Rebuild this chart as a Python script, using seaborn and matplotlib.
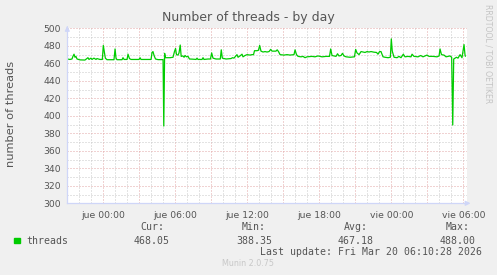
import matplotlib
matplotlib.use("Agg")
import matplotlib.pyplot as plt
import seaborn as sns
import numpy as np
import pandas as pd
from matplotlib.ticker import MultipleLocator, FixedLocator

# ---- data (hours relative to "jue 00:00") ----
hours = [-3.00, -2.78, -2.61, -2.53, -2.44, -2.36, -2.28, -2.19, -1.94, -1.53,
         -1.28, -1.19, -1.03, -0.94, -0.78, -0.61, -0.53, -0.28, -0.08, 0.00,
         0.08, 0.17, 0.31, 0.89, 0.98, 1.06, 1.14, 1.56, 1.64, 1.73,
         1.98, 2.06, 2.18, 2.31, 2.98, 3.06, 3.14, 3.98, 4.06, 4.14,
         4.23, 4.35, 4.56, 4.98, 5.04, 5.11, 5.18, 5.56, 5.81, 5.93,
         6.02, 6.10, 6.23, 6.31, 6.41, 6.49, 6.64, 6.73, 6.81, 6.93,
         7.06, 7.18, 7.48, 7.73, 7.81, 7.89, 8.23, 8.31, 8.39, 8.73,
         8.93, 9.03, 9.14, 9.39, 9.75, 9.83, 9.92, 10.23, 10.64, 10.77,
         10.89, 11.02, 11.14, 11.23, 11.39, 11.56, 11.64, 11.81, 11.98, 12.23,
         12.39, 12.52, 12.60, 12.81, 12.93, 13.03, 13.14, 13.31, 13.48, 13.64,
         13.81, 13.95, 14.06, 14.39, 14.49, 14.60, 14.73, 15.06, 15.31, 15.56,
         15.89, 15.98, 16.10, 16.23, 16.48, 16.64, 16.81, 16.98, 17.39, 17.64,
         17.89, 18.23, 18.56, 18.85, 18.95, 19.06, 19.39, 19.52, 19.64, 19.81,
         19.93, 20.06, 20.23, 20.56, 20.93, 21.03, 21.14, 21.31, 21.48, 21.81,
         21.98, 22.14, 22.31, 22.56, 22.77, 22.89, 23.02, 23.14, 23.31, 23.48,
         23.73, 23.92, 24.00, 24.08, 24.23, 24.48, 24.64, 24.81, 25.00, 25.14,
         25.39, 25.64, 25.73, 25.89, 26.23, 26.45, 26.64, 26.98, 27.14, 27.48,
         27.81, 27.98, 28.06, 28.18, 28.39, 28.56, 28.89, 29.03, 29.12, 29.20,
         29.43, 29.56, 29.73, 29.89, 30.06, 30.14, 30.17]
threads = [465.0, 464.5, 465.0, 468.0, 470.5, 467.0, 468.0, 465.0, 464.0, 463.8,
           466.5, 464.5, 466.0, 464.5, 466.0, 464.5, 465.5, 464.5, 464.5, 480.5,
           474.0, 466.0, 464.2, 464.2, 476.5, 466.0, 464.2, 464.2, 466.5, 464.5,
           464.5, 470.5, 465.5, 464.5, 464.5, 466.5, 464.5, 464.5, 472.5, 473.5,
           469.0, 465.0, 464.3, 464.3, 388.35, 471.5, 466.5, 466.5, 467.0, 473.5,
           477.0, 470.0, 469.5, 472.0, 481.0, 468.0, 468.5, 467.0, 469.0, 467.5,
           468.0, 465.0, 464.8, 464.5, 466.0, 464.5, 464.5, 466.5, 464.5, 465.0,
           465.0, 472.0, 466.0, 465.0, 465.0, 475.5, 466.0, 465.0, 465.5, 466.5,
           466.0, 468.0, 470.0, 467.0, 468.5, 470.5, 467.5, 469.0, 470.0, 469.5,
           470.0, 470.0, 474.5, 474.5, 475.0, 480.5, 474.0, 473.0, 473.5, 473.0,
           473.5, 476.0, 474.0, 474.0, 475.5, 473.5, 470.0, 469.5, 470.0, 469.5,
           470.0, 475.5, 470.0, 468.0, 467.5, 468.0, 466.5, 467.5, 468.0, 467.5,
           468.5, 467.5, 468.0, 468.0, 476.5, 469.0, 468.0, 471.0, 468.5, 469.0,
           471.5, 468.5, 467.5, 467.0, 467.5, 476.0, 472.0, 470.0, 473.5, 472.5,
           473.5, 473.0, 473.5, 472.8, 472.5, 470.5, 473.5, 473.5, 467.5, 467.0,
           466.5, 467.0, 488.0, 474.0, 467.0, 466.5, 468.0, 466.5, 470.5, 467.5,
           468.0, 467.5, 470.5, 468.0, 467.5, 469.0, 467.5, 469.5, 468.0, 468.0,
           467.5, 468.5, 476.5, 470.0, 469.5, 467.5, 468.5, 467.0, 389.5, 465.0,
           467.0, 466.0, 470.0, 466.5, 481.5, 470.0, 468.05]

tick_hours = [0, 6, 12, 18, 24, 30]
tick_labels = ["jue 00:00", "jue 06:00", "jue 12:00", "jue 18:00", "vie 00:00", "vie 06:00"]
y_ticks = [300, 320, 340, 360, 380, 400, 420, 440, 460, 480, 500]

stat_names = ["Cur:", "Min:", "Avg:", "Max:"]
stat_values = ["468.05", "388.35", "467.18", "488.00"]

# ---- styling ----
sns.set_style("white")
plt.rcParams['font.family'] = ['DejaVu Sans']
W, H = 497, 275
BG = "#F0F0F0"
FONT = "#555555"
MGRID = "#E3A6A6"
GRID = "#C8C8C8"
AXIS = "#CFD6F8"
LINE = "#00CC00"

fig = plt.figure(figsize=(W / 100, H / 100), dpi=100, facecolor=BG)
L, R, T, B = 67.3, 467.3, 28.4, 203.3
ax = fig.add_axes([L / W, 1 - B / H, (R - L) / W, (B - T) / H])
ax.set_facecolor("white")

df = pd.DataFrame({"hour": hours, "threads": threads})
sns.lineplot(data=df, x="hour", y="threads", ax=ax, color=LINE,
             linewidth=0.9, estimator=None, zorder=5)

ax.set_xlim(-3.0, 30.333)
ax.set_ylim(300, 500)

# ticks & grid
major_x = list(range(-3, 31, 3))
ax.xaxis.set_major_locator(FixedLocator(major_x))
ax.set_xticklabels([tick_labels[tick_hours.index(h)] if h in tick_hours else "" for h in major_x])
ax.xaxis.set_minor_locator(MultipleLocator(1))
ax.yaxis.set_major_locator(FixedLocator(y_ticks))
ax.yaxis.set_minor_locator(MultipleLocator(10))

dots = (0, (1, 2))
ax.grid(which="major", color=MGRID, linestyle=dots, linewidth=0.72, zorder=1)
ax.grid(which="minor", color=GRID, linestyle=dots, linewidth=0.72, zorder=1)
ax.set_axisbelow(True)

ax.tick_params(axis="both", which="major", length=3, width=0.72, color=MGRID,
               labelsize=6.7, labelcolor=FONT, pad=1.5)
ax.tick_params(axis="both", which="minor", length=2, width=0.72, color=GRID)
ax.tick_params(axis="x", which="major", pad=2.5)

for s in ["top", "right"]:
    ax.spines[s].set_visible(False)
for s in ["left", "bottom"]:
    ax.spines[s].set_color(AXIS)
    ax.spines[s].set_linewidth(0.9)
    ax.spines[s].set_zorder(6)

# axis arrows
ax.annotate("", xy=(1.015, 0), xytext=(0.99, 0), xycoords="axes fraction",
            arrowprops=dict(arrowstyle="-|>", color=AXIS, lw=0.9, mutation_scale=7),
            annotation_clip=False)
ax.annotate("", xy=(0, 1.03), xytext=(0, 0.99), xycoords="axes fraction",
            arrowprops=dict(arrowstyle="-|>", color=AXIS, lw=0.9, mutation_scale=7),
            annotation_clip=False)

ax.set_xlabel("")
ax.set_ylabel("")

def ft(px, py, s, **kw):
    fig.text(px / W, 1 - py / H, s, **kw)

ft(248.5, 17.5, "Number of threads - by day", ha="center", va="center",
   fontsize=9, color=FONT)
ft(11, 114, "number of threads", rotation=90, ha="center", va="center",
   fontsize=8.2, color=FONT)
ft(487.7, 53.5, "RRDTOOL / TOBI OETIKER", rotation=270, ha="center", va="center",
   fontsize=5.6, color="#C4C4C4")

mono = "DejaVu Sans Mono"
stat_x = [152, 254, 356, 458]
for x, n, v in zip(stat_x, stat_names, stat_values):
    ft(x, 227.5, n, ha="center", va="center", fontsize=7.1, family=mono, color=FONT)
    ft(x, 240.5, v, ha="center", va="center", fontsize=7.1, family=mono, color=FONT)

fig.patches.append(plt.Rectangle((14 / W, 1 - 242.5 / H), 6 / W, 5 / H,
                                 transform=fig.transFigure, color=LINE))
ft(26.5, 240.5, "threads", ha="left", va="center", fontsize=7.1, family=mono, color=FONT)
ft(482.5, 252, "Last update: Fri Mar 20 06:10:28 2026", ha="right", va="center",
   fontsize=7.1, family=mono, color=FONT)
ft(248, 264, "Munin 2.0.75", ha="center", va="center", fontsize=5.8, color="#C8C8C8")

fig.savefig("out.png", dpi=100, facecolor=BG)
